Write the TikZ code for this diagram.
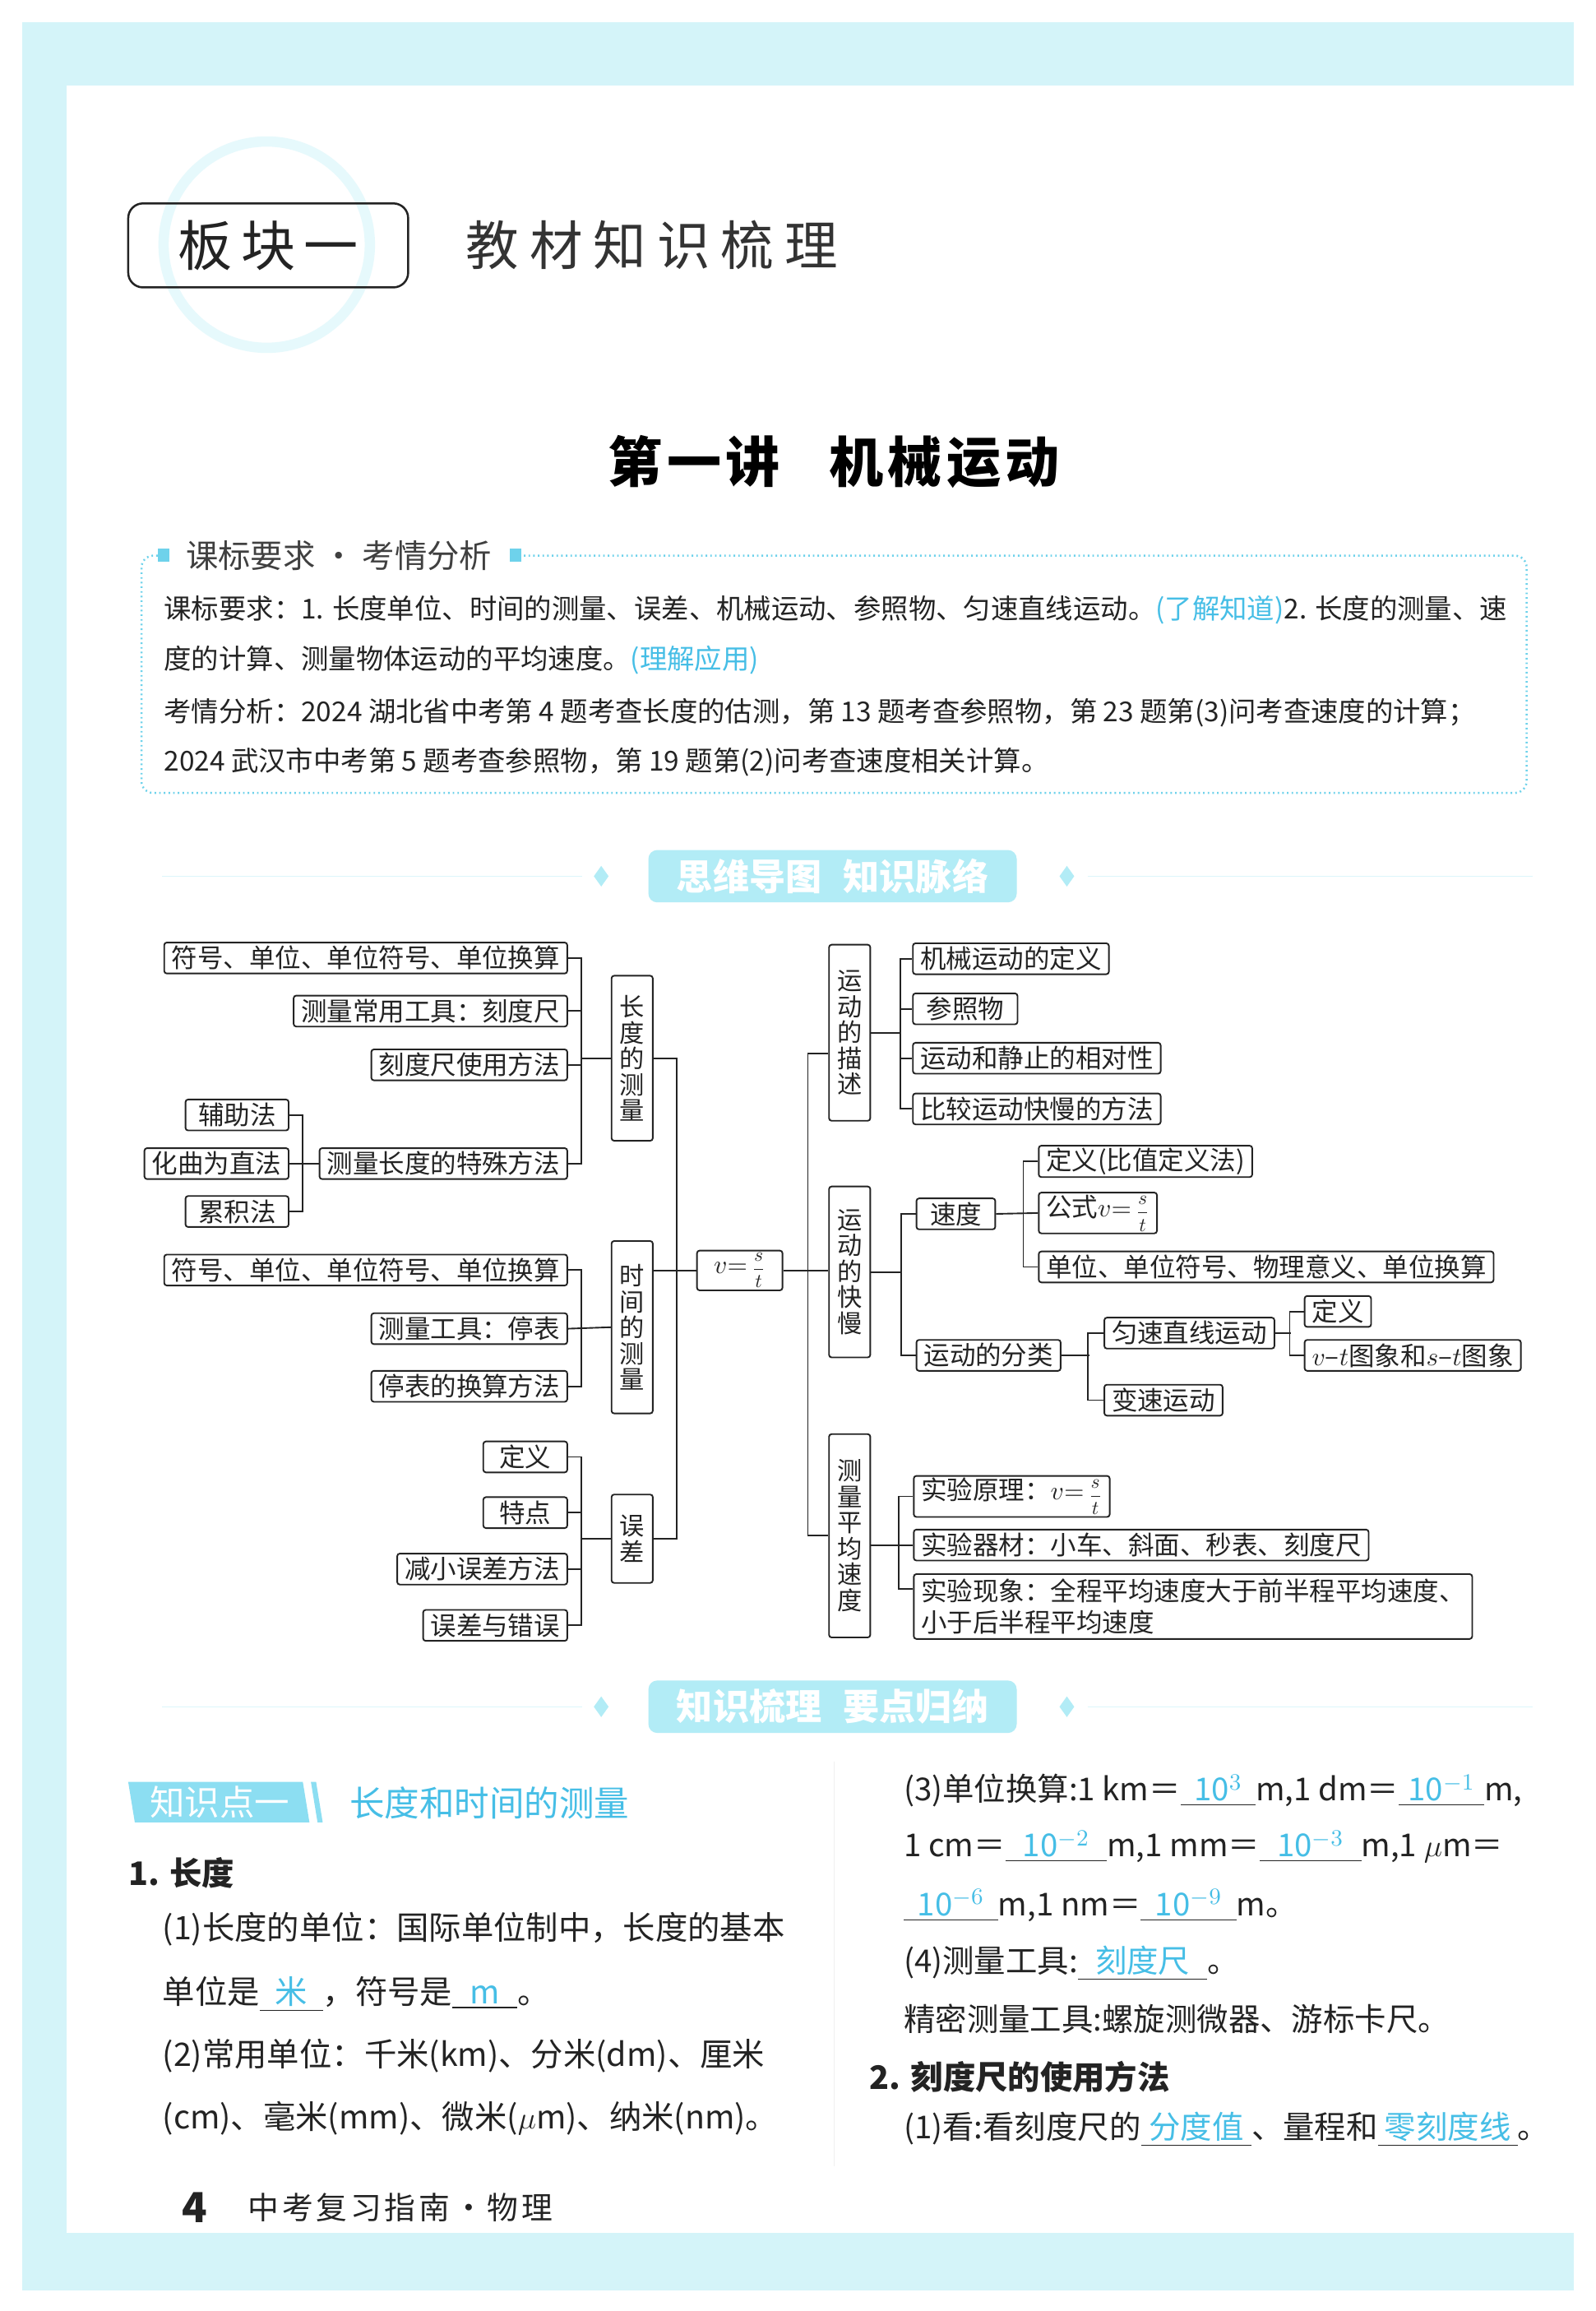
\documentclass[tikz,border=0pt]{standalone}
\usepackage{fontspec}
\setmainfont{Noto Sans CJK SC}
\usepackage{xcolor}
\usepackage{graphicx}
\usepackage{tikz}
\usetikzlibrary{calc,positioning}

\definecolor{frame}{RGB}{212,244,249}
\definecolor{ring}{RGB}{230,249,252}
\definecolor{ansblue}{RGB}{70,190,230}
\definecolor{bannerfill}{RGB}{178,236,246}
\definecolor{tagfill}{RGB}{140,222,242}
\definecolor{dotcyan}{RGB}{110,210,235}
\definecolor{ink}{RGB}{35,35,35}

\newcommand{\mapfont}{\fontsize{10pt}{12pt}\selectfont}
\newcommand{\colfont}{\fontsize{9.6pt}{10pt}\selectfont}
\newcommand{\bodyfont}{\fontsize{12.5pt}{15pt}\selectfont}
\newcommand{\rightfont}{\fontsize{12.2pt}{15pt}\selectfont}
\newcommand{\reqfont}{\fontsize{10.6pt}{12pt}\selectfont}
\newcommand{\ans}[2]{\underline{\makebox[#1]{\textcolor{ansblue}{#2}}}}
\newcommand{\vst}{$v{=}$\,\raisebox{-0.1ex}{\scalebox{0.75}{$\displaystyle\frac{s}{t}$}}}

\begin{document}
\begin{tikzpicture}[
    x=0.02cm, y=-0.02cm,
    every node/.style={text=ink},
    leaf/.style={draw=ink, line width=0.6pt, rounded corners=1pt, inner xsep=0.1cm, inner ysep=0.03cm, minimum height=0.42cm, font=\mapfont},
    stem/.style={draw=ink, line width=0.6pt, rounded corners=1pt, minimum width=0.56cm, inner sep=0pt, align=center, font=\colfont},
    hub/.style={leaf, minimum width=1.16cm, minimum height=0.54cm},
    link/.style={draw=ink, line width=0.6pt},
    textline/.style={anchor=west, inner sep=0pt, font=\bodyfont},
    rightline/.style={anchor=west, inner sep=0pt, font=\rightfont},
    reqline/.style={anchor=west, inner sep=0pt, font=\reqfont},
    banner/.style={fill=bannerfill, rounded corners=0.12cm, text=white, font=\fontsize{14pt}{16pt}\selectfont\bfseries, minimum width=5cm, minimum height=0.7cm}
    ]
    \useasboundingbox (0,0) rectangle (1083,1568);

    % page frame
    \fill[white] (0,0) rectangle (1083,1568);
    \fill[frame] (15,15) rectangle (1068,1554);
    \fill[white] (45,58) rectangle (1068,1515);

    % heading
    \draw[ring, line width=0.14cm] (181,166) circle (70);
    \node[draw=ink, line width=0.8pt, rounded corners=0.2cm, minimum width=3.8cm, minimum height=1.14cm, font=\fontsize{21pt}{24pt}\selectfont] (board) at (182,166.5) {\addfontfeature{LetterSpace=16}板块一};
    \node[anchor=west, inner sep=0pt, font=\fontsize{20.5pt}{24pt}\selectfont, text=black!80] (boardtitle) at (316,166.5) {\addfontfeature{LetterSpace=20}教材知识梳理};
    \node[font=\fontsize{21pt}{24pt}\selectfont\bfseries, text=black] (lecture) at (566,313.5) {\addfontfeature{LetterSpace=8}第一讲\hspace{0.9em}机械运动};

    % requirements box
    \draw[dotcyan, line width=0.8pt, dash pattern=on 0.6pt off 1.2pt, rounded corners=0.16cm]
        (107,377) -- (96,377) -- (96,538) -- (1036,538) -- (1036,377) -- (355,377);
    \fill[dotcyan] (107,372) rectangle (115,381);
    \fill[dotcyan] (346,372) rectangle (354,381);
    \node[font=\fontsize{12.5pt}{14pt}\selectfont, text=black!75] (reqhead) at (230,377) {课标要求 · 考情分析};
    \node[reqline] (req1) at (111,413.8) {课标要求：1. 长度单位、时间的测量、误差、机械运动、参照物、匀速直线运动。\textcolor{ansblue}{(了解知道)}2. 长度的测量、速};
    \node[reqline] (req2) at (111,448) {度的计算、测量物体运动的平均速度。\textcolor{ansblue}{(理解应用)}};
    \node[reqline] (req3) at (111,483.6) {考情分析：2024 湖北省中考第 4 题考查长度的估测，第 13 题考查参照物，第 23 题第(3)问考查速度的计算；};
    \node[reqline] (req4) at (111,517) {2024 武汉市中考第 5 题考查参照物，第 19 题第(2)问考查速度相关计算。};

    % banners
    \node[banner] (mapbanner) at (565,594.5) {思维导图\hspace{0.6em}知识脉络};
    \node[banner] (sumbanner) at (565,1158) {知识梳理\hspace{0.6em}要点归纳};
    \foreach \y in {594.5,1158} {
        \draw[bannerfill!45, line width=0.4pt] (110,\y) -- (395,\y);
        \draw[bannerfill!45, line width=0.4pt] (738,\y) -- (1040,\y);
        \fill[bannerfill] (408,\y-7) -- (413,\y) -- (408,\y+7) -- (403,\y) -- cycle;
        \fill[bannerfill] (724,\y-7) -- (729,\y) -- (724,\y+7) -- (719,\y) -- cycle;
    }

    % mind map, left half
    \node[leaf, anchor=east] (sym1) at (385.5,650) {符号、单位、单位符号、单位换算};
    \node[leaf, anchor=east] (tool1) at (385.5,686) {测量常用工具：刻度尺};
    \node[leaf, anchor=east] (use1) at (385.5,722.5) {刻度尺使用方法};
    \node[leaf, anchor=east] (spec) at (385.5,789.5) {测量长度的特殊方法};
    \node[leaf, anchor=east, minimum width=1.4cm] (aux) at (196.4,756.5) {辅助法};
    \node[leaf, anchor=east] (curve) at (196.4,789.5) {化曲为直法};
    \node[leaf, anchor=east, minimum width=1.4cm] (accum) at (196.4,822) {累积法};
    \node[leaf, anchor=east] (sym2) at (385.5,861.7) {符号、单位、单位符号、单位换算};
    \node[leaf, anchor=east] (tool2) at (385.5,901.5) {测量工具：停表};
    \node[leaf, anchor=east] (conv2) at (385.5,940.6) {停表的换算方法};
    \node[leaf, anchor=east, minimum width=1.14cm] (errdef) at (385.5,988.5) {定义};
    \node[leaf, anchor=east, minimum width=1.14cm] (errchar) at (385.5,1026.3) {特点};
    \node[leaf, anchor=east] (errred) at (385.5,1064.6) {减小误差方法};
    \node[leaf, anchor=east] (errvs) at (385.5,1102.8) {误差与错误};

    \node[stem, minimum height=2.24cm] (len) at (429,718) {长\\度\\的\\测\\量};
    \node[stem, minimum height=2.34cm] (time) at (429,900.5) {时\\间\\的\\测\\量};
    \node[stem, minimum height=1.2cm] (err) at (429,1044) {误\\差};

    \node[hub] (vel) at (502,862) {\vst};

    \draw[link] (sym1.east) -- ++(9,0) |- (spec.east);
    \foreach \n in {tool1,use1} \draw[link] (\n.east) -- ++(9,0);
    \draw[link] (len.west) -- ++(-20.8,0);
    \draw[link] (aux.east) -- ++(9,0) |- (accum.east);
    \draw[link] (curve.east) -- (spec.west);
    \draw[link] (sym2.east) -- ++(9,0) |- (conv2.east);
    \draw[link] (tool2.east) -- (time.west);
    \draw[link] (errdef.east) -- ++(9,0) |- (errvs.east);
    \foreach \n in {errchar,errred} \draw[link] (\n.east) -- ++(9,0);
    \draw[link] (err.west) -- ++(-20.8,0);

    \draw[link] (len.east) -- ++(15.5,0) |- (err.east);
    \draw[link] (vel.west) -- (vel.west -| time.east);

    % mind map, right half
    \node[stem, minimum height=2.39cm] (desc) at (576.6,700.7) {运\\动\\的\\描\\述};
    \node[stem, minimum height=2.32cm] (fast) at (576.6,863) {运\\动\\的\\快\\慢};
    \node[stem, minimum height=2.76cm] (avg) at (576.6,1042) {测\\量\\平\\均\\速\\度};

    \draw[link] ([yshift=-0.28cm]desc.west) -| ($(vel.east)+(16.7,0)$) |- (avg.west);
    \draw[link] (vel.east) -- (vel.east -| fast.west);

    \node[leaf, anchor=west] (mdef) at (619,650.5) {机械运动的定义};
    \node[leaf, anchor=west, minimum width=1.42cm] (ref) at (619,684.5) {参照物};
    \node[leaf, anchor=west] (rel) at (619,718) {运动和静止的相对性};
    \node[leaf, anchor=west] (cmp) at (619,752.4) {比较运动快慢的方法};
    \draw[link] (mdef.west) -- ++(-8.2,0) |- (cmp.west);
    \foreach \n in {ref,rel} \draw[link] (\n.west) -- ++(-8.2,0);
    \draw[link] (desc.east) -- ++(20.3,0);

    \node[leaf, anchor=west, minimum width=1.07cm] (speed) at (621.4,823.6) {速度};
    \node[leaf, anchor=west] (kind) at (621.4,919.6) {运动的分类};
    \draw[link] (speed.west) -- ++(-9.9,0) |- (kind.west);
    \draw[link] (fast.east) -- ++(20.9,0);

    \node[leaf, anchor=west] (sdef) at (704.4,788) {定义(比值定义法)};
    \node[leaf, anchor=west] (sform) at (704.4,823) {公式\vst};
    \node[leaf, anchor=west] (sunit) at (704.4,859.6) {单位、单位符号、物理意义、单位换算};
    \draw[link] (sdef.west) -- ++(-10,0) |- (sunit.west);
    \draw[link] (speed.east) -- (sform.west);

    \node[leaf, anchor=west] (uni) at (748.9,904.5) {匀速直线运动};
    \node[leaf, anchor=west] (var) at (748.9,950) {变速运动};
    \draw[link] (uni.west) -- ++(-10.7,0) |- (var.west);
    \draw[link] (kind.east) -- ++(18.8,0);

    \node[leaf, anchor=west] (udef) at (884.8,889.8) {定义};
    \node[leaf, anchor=west] (ugraph) at (884.8,919.6) {$v$–$t$图象和$s$–$t$图象};
    \draw[link] (udef.west) -- ++(-9.6,0) |- (ugraph.west);
    \draw[link] (uni.east) -- ++(10.7,0);

    \node[leaf, anchor=west] (prin) at (619.6,1015.3) {实验原理：\vst};
    \node[leaf, anchor=west] (equip) at (619.6,1048.3) {实验器材：小车、斜面、秒表、刻度尺};
    \node[leaf, anchor=west, align=left, minimum height=0.88cm] (phen) at (619.6,1090) {实验现象：全程平均速度大于前半程平均速度、\\小于后半程平均速度};
    \draw[link] (prin.west) -- ++(-9.9,0) |- ([yshift=0.24cm]phen.west);
    \draw[link] (equip.west) -- (equip.west -| avg.east);

    % knowledge point tag
    \fill[tagfill] (87,1209) -- (205.5,1209) -- (210,1236.5) -- (91.5,1236.5) -- cycle;
    \fill[tagfill] (211,1209) -- (214.5,1209) -- (219,1236.5) -- (215.5,1236.5) -- cycle;
    \node[text=white, font=\fontsize{13.5pt}{15pt}\selectfont] (tag) at (149,1223) {知识点一};
    \node[anchor=west, inner sep=0pt, text=ansblue, font=\fontsize{13.5pt}{15pt}\selectfont] (tagtitle) at (237,1223) {长度和时间的测量};
    \draw[black!6, line width=0.4pt] (566,1195) -- (566,1470);

    % left column
    \node[textline, font=\bodyfont\bfseries] (len1) at (87,1271) {1. 长度};
    \node[textline] (l1) at (110,1309) {(1)长度的单位：国际单位制中，长度的基本};
    \node[textline] (l2) at (110,1353) {单位是\ans{0.86cm}{米}，符号是\ans{0.88cm}{m}。};
    \node[textline] (l3) at (110,1395) {(2)常用单位：千米(km)、分米(dm)、厘米};
    \node[textline] (l4) at (110,1437) {(cm)、毫米(mm)、微米($\mu$m)、纳米(nm)。};

    % right column
    \node[rightline] (r1) at (613,1215) {(3)单位换算:1 km＝\ans{1.02cm}{10$^{3}$}m,1 dm＝\ans{1.16cm}{10$^{-1}$}m,};
    \node[rightline] (r2) at (613,1253) {1 cm＝\ans{1.38cm}{10$^{-2}$}m,1 mm＝\ans{1.38cm}{10$^{-3}$}m,1 $\mu$m＝};
    \node[rightline] (r3) at (613,1293) {\ans{1.28cm}{10$^{-6}$}m,1 nm＝\ans{1.3cm}{10$^{-9}$}m。};
    \node[rightline] (r4) at (613,1332) {(4)测量工具:\ans{1.76cm}{刻度尺}。};
    \node[rightline] (r5) at (613,1370) {精密测量工具:螺旋测微器、游标卡尺。};
    \node[textline, font=\bodyfont\bfseries] (ruler2) at (590,1409) {2. 刻度尺的使用方法};
    \node[rightline] (r6) at (613,1445) {(1)看:看刻度尺的\ans{1.5cm}{分度值}、量程和\ans{1.9cm}{零刻度线}。};

    % footer
    \node[anchor=west, inner sep=0pt, font=\fontsize{16pt}{18pt}\selectfont\bfseries] (pagenum) at (123,1498) {4};
    \node[anchor=west, inner sep=0pt, font=\fontsize{12pt}{14pt}\selectfont] (runner) at (168,1498) {\addfontfeature{LetterSpace=10}中考复习指南·物理};
\end{tikzpicture}
\end{document}
